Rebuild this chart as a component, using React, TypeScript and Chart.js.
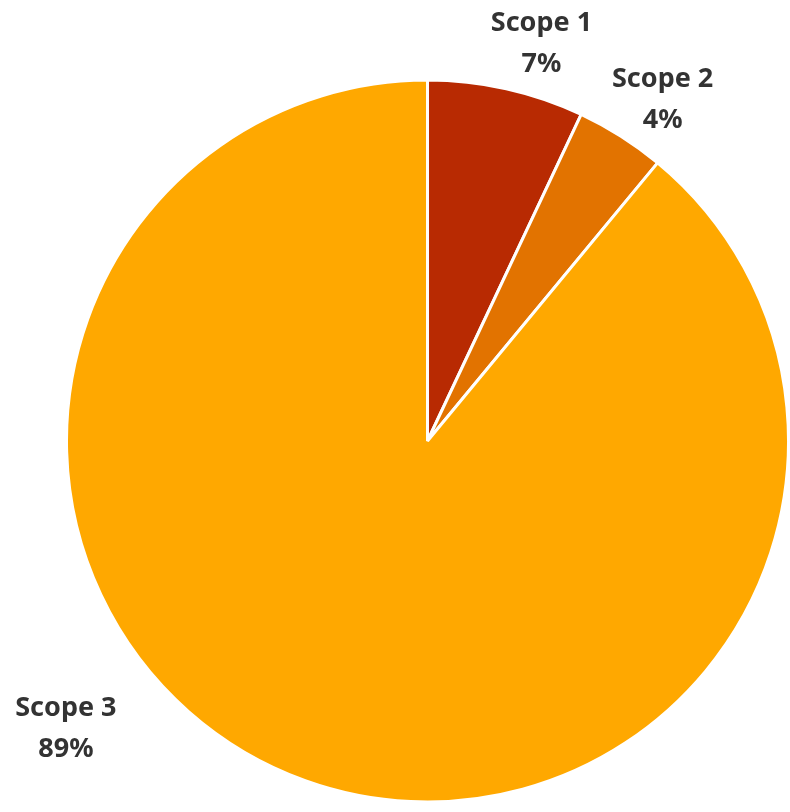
import React, { useEffect, useRef } from "react";
import { Chart, registerables } from "chart.js";

Chart.register(...registerables);

const categories = ["Scope 1", "Scope 2", "Scope 3"];
const shares = [7, 4, 89];
const sliceColors = ["#B82A02", "#E27300", "#FFA800"];

// label placement: angle (deg, clockwise from 12 o'clock) and distance as a factor of outer radius
const labelPlacement = [
  { angle: 16, dist: 1.145 },
  { angle: 34.5, dist: 1.15 },
  { angle: 231.5, dist: 1.28 },
];

const labelPlugin = {
  id: "scopeLabels",
  afterDatasetsDraw(chart: any) {
    const ctx = chart.ctx;
    const meta = chart.getDatasetMeta(0);
    ctx.save();
    ctx.font = "bold 27px 'Noto Sans', 'Liberation Sans', sans-serif";
    ctx.fillStyle = "#333333";
    ctx.textAlign = "center";
    ctx.textBaseline = "middle";
    meta.data.forEach((arc: any, i: number) => {
      const p = labelPlacement[i];
      const a = (p.angle * Math.PI) / 180;
      const r = arc.outerRadius * p.dist;
      const x = arc.x + Math.sin(a) * r;
      const y = arc.y - Math.cos(a) * r;
      ctx.fillText(categories[i], x, y - 20);
      ctx.fillText(shares[i] + "%", x, y + 21);
    });
    ctx.restore();
  },
};

export default function App() {
  const ref = useRef<HTMLCanvasElement | null>(null);
  useEffect(() => {
    if (!ref.current) return;
    const chart = new Chart(ref.current, {
      type: "pie",
      data: {
        labels: categories,
        datasets: [
          {
            data: shares,
            backgroundColor: sliceColors,
            borderColor: "#FFFFFF",
            borderWidth: 3,
          },
        ],
      },
      options: {
        responsive: false,
        animation: false,
        layout: { padding: { left: 65, right: 0, top: 76, bottom: 6 } },
        plugins: {
          legend: { display: false },
          tooltip: { enabled: false },
        },
      },
      plugins: [labelPlugin],
    });
    return () => chart.destroy();
  }, []);
  return (
    <div style={{ position: "fixed", left: 0, top: 0, width: 790, height: 812, background: "#fff" }}>
      <canvas ref={ref} width={790} height={812} style={{ width: 790, height: 812 }} />
    </div>
  );
}
